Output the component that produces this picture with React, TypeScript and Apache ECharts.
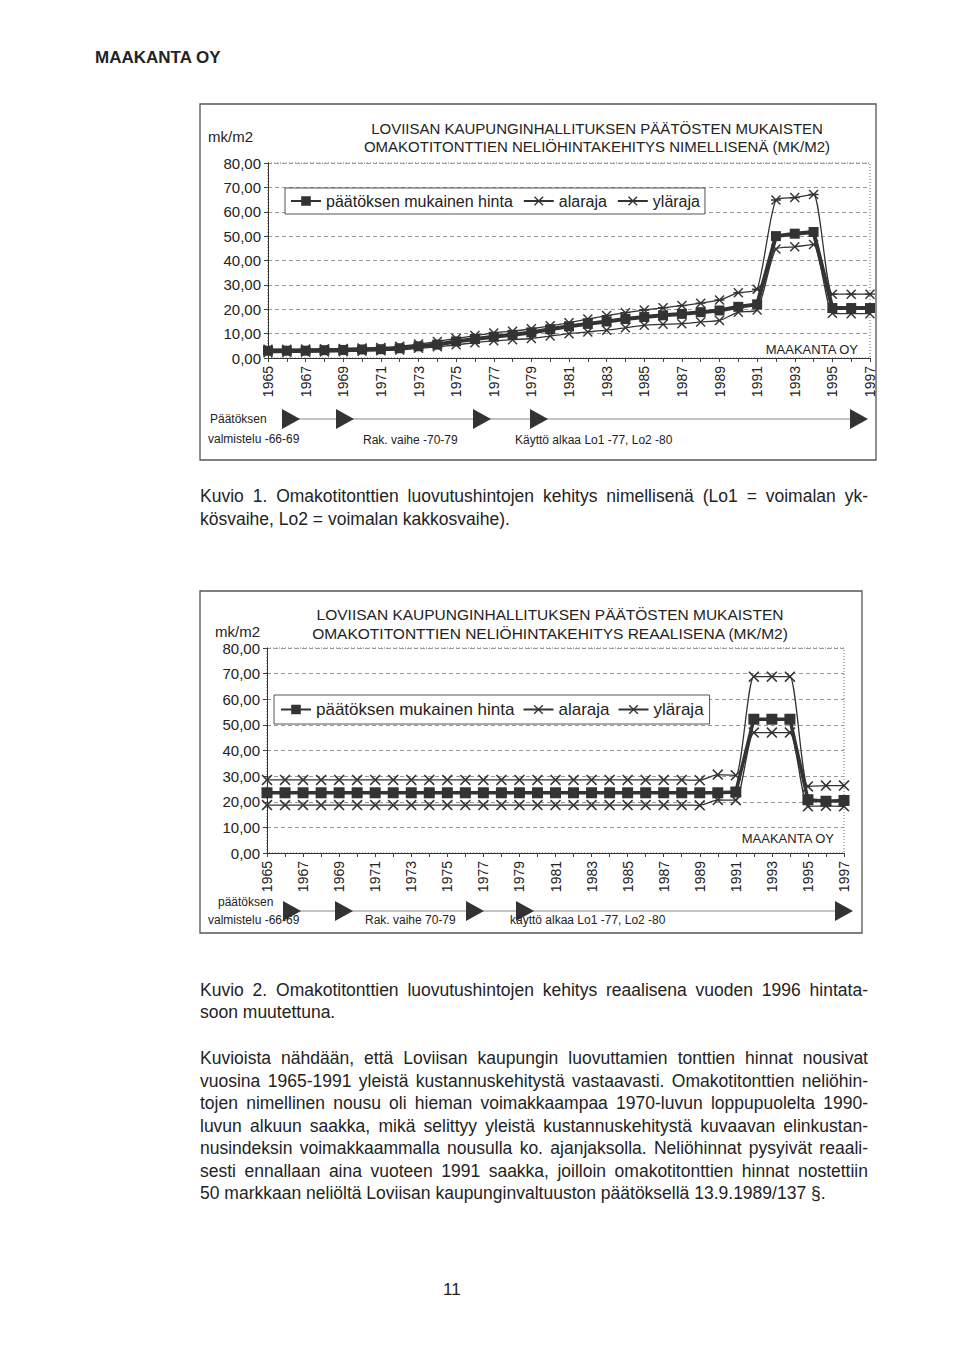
import React, { useEffect, useRef } from 'react';
import * as echarts from 'echarts';

const YEARS = ['1965','1966','1967','1968','1969','1970','1971','1972','1973','1974','1975','1976','1977','1978','1979','1980','1981','1982','1983','1984','1985','1986','1987','1988','1989','1990','1991','1992','1993','1994','1995','1996','1997'];

const SERIES_NAMES = ['päätöksen mukainen hinta', 'alaraja', 'yläraja'];

// Kuvio 1 – nominal
const NOMINAL_PRICE = [3.0,3.0,3.0,3.2,3.3,3.5,3.6,4.0,4.8,5.5,6.8,7.8,8.7,9.5,10.5,11.8,13.0,14.0,15.0,16.0,16.8,17.5,18.1,18.8,19.5,21.0,22.0,50.0,51.0,51.7,20.5,20.5,20.5];
const NOMINAL_LOW = [2.2,2.3,2.4,2.5,2.6,2.8,3.0,3.3,4.0,4.6,5.4,6.3,7.1,7.5,8.0,9.0,10.0,10.7,11.4,12.4,13.4,13.8,14.1,14.8,15.4,18.8,19.7,44.7,45.6,46.6,18.4,18.2,18.2];
const NOMINAL_HIGH = [3.6,3.6,3.7,3.8,3.9,4.1,4.3,4.8,5.7,6.8,8.0,9.2,10.3,11.0,12.0,13.2,14.5,16.0,17.4,18.6,19.7,20.6,21.5,22.5,23.8,26.8,28.2,64.8,65.8,67.1,26.2,26.2,26.2];

// Kuvio 2 – real (1996 price level)
const REAL_PRICE = [23.5,23.5,23.5,23.5,23.5,23.5,23.5,23.5,23.5,23.5,23.5,23.5,23.5,23.5,23.5,23.5,23.5,23.5,23.5,23.5,23.5,23.5,23.5,23.5,23.5,23.5,23.8,52.2,52.2,52.2,20.8,20.2,20.5];
const REAL_LOW = [18.7,18.7,18.7,18.7,18.7,18.7,18.7,18.7,18.7,18.7,18.7,18.7,18.7,18.7,18.7,18.7,18.7,18.7,18.7,18.7,18.7,18.7,18.7,18.7,18.6,20.7,20.6,47.0,47.0,47.0,18.2,18.4,18.2];
const REAL_HIGH = [28.5,28.5,28.5,28.5,28.5,28.5,28.5,28.5,28.5,28.5,28.5,28.5,28.5,28.5,28.5,28.5,28.5,28.5,28.5,28.5,28.5,28.5,28.5,28.5,28.4,30.6,30.3,68.8,68.8,68.8,26.0,26.3,26.3];

const Y_MIN = 0;
const Y_MAX = 80;
const Y_STEP = 10;

const FONT = '"Liberation Sans", Arial, sans-serif';
const INK = '#232323';

const X_PATH = 'path://M0,1L1,0L5,4L9,0L10,1L6,5L10,9L9,10L5,6L1,10L0,9L4,5Z';
const STAR_PATH = 'path://M0,1L1,0L5,4L9,0L10,1L6,5L10,9L9,10L5,6L1,10L0,9L4,5ZM0,4.3L10,4.3L10,5.7L0,5.7Z';

type Cfg = {
  frame: [number, number, number, number];
  titleX: number;
  titleY: [number, number];
  titleSize: number;
  titles: [string, string];
  unit: [number, number];
  grid: { left: number; top: number; width: number; height: number };
  legend: { left: number; top: number; fontSize: number; gap: number; pad: number[] };
  stamp: [number, number, number];
  arrowY: number;
  arrows: number[];
  notes: { text: string; x: number; y: number }[];
  price: number[];
  low: number[];
  high: number[];
  highSymbol: string;
  mark: number;
  priceWidth: number;
};

function text(t: string, x: number, y: number, size: number, align = 'left', weight = 'normal') {
  return {
    type: 'text', x, y, silent: true,
    style: {
      text: t, fill: INK, fontSize: size, fontFamily: FONT, fontWeight: weight,
      textAlign: align, textVerticalAlign: 'middle', align, verticalAlign: 'middle'
    }
  };
}

function buildOption(c: Cfg) {
  const g = c.grid;
  const tri = (cx: number) => ({
    type: 'polygon', silent: true,
    shape: { points: [[cx - 9, c.arrowY - 10], [cx + 9, c.arrowY], [cx - 9, c.arrowY + 10]] },
    style: { fill: '#333' }
  });
  const graphic: any[] = [
    { type: 'rect', silent: true, shape: { x: c.frame[0], y: c.frame[1], width: c.frame[2], height: c.frame[3] }, style: { fill: 'none', stroke: '#555', lineWidth: 1.3 } },
    { type: 'rect', silent: true, z: -1, shape: { x: g.left, y: g.top, width: g.width, height: g.height }, style: { fill: 'none', stroke: '#666', lineWidth: 1, lineDash: [1, 2] } },
    text(c.titles[0], c.titleX, c.titleY[0], c.titleSize, 'center'),
    text(c.titles[1], c.titleX, c.titleY[1], c.titleSize, 'center'),
    text('mk/m2', c.unit[0], c.unit[1], 15),
    text('MAAKANTA OY', c.stamp[0], c.stamp[1], c.stamp[2], 'right'),
    { type: 'line', silent: true, shape: { x1: c.arrows[0], y1: c.arrowY, x2: c.arrows[c.arrows.length - 1], y2: c.arrowY }, style: { stroke: '#888', lineWidth: 1 } },
    ...c.arrows.map(tri),
    ...c.notes.map((n) => text(n.text, n.x, n.y, 12))
  ];
  return {
    animation: false,
    textStyle: { fontFamily: FONT },
    grid: { left: g.left, top: g.top, width: g.width, height: g.height, containLabel: false },
    legend: {
      left: c.legend.left, top: c.legend.top, orient: 'horizontal',
      itemWidth: 30, itemHeight: 12, itemGap: c.legend.gap, padding: c.legend.pad,
      borderColor: '#555', borderWidth: 1, backgroundColor: '#fff',
      textStyle: { fontSize: c.legend.fontSize, color: INK, fontFamily: FONT },
      data: SERIES_NAMES
    },
    xAxis: {
      type: 'category', data: YEARS, boundaryGap: false,
      axisLine: { lineStyle: { color: '#333', width: 1 } },
      axisTick: { show: true, interval: 0, length: 4, lineStyle: { color: '#444' } },
      axisLabel: { interval: 1, rotate: 90, fontSize: 14, color: INK, margin: 8, fontFamily: FONT },
      splitLine: { show: false }
    },
    yAxis: {
      type: 'value', min: Y_MIN, max: Y_MAX, interval: Y_STEP,
      axisLine: { show: true, lineStyle: { color: '#333', width: 1 } },
      axisTick: { show: true, length: 4, lineStyle: { color: '#444' } },
      axisLabel: { fontSize: 15, color: INK, margin: 7, fontFamily: FONT, formatter: (v: number) => v.toFixed(2).replace('.', ',') },
      splitLine: { show: true, lineStyle: { color: '#999', type: [4, 3], width: 1 } }
    },
    series: [
      {
        name: SERIES_NAMES[1], type: 'line', data: c.low, smooth: 0.2,
        symbol: X_PATH, symbolSize: c.mark,
        lineStyle: { color: '#333', width: 1.3 }, itemStyle: { color: '#333' }, z: 3
      },
      {
        name: SERIES_NAMES[2], type: 'line', data: c.high, smooth: 0.2,
        symbol: c.highSymbol, symbolSize: c.mark,
        lineStyle: { color: '#333', width: 1.3 }, itemStyle: { color: '#333' }, z: 3
      },
      {
        name: SERIES_NAMES[0], type: 'line', data: c.price,
        symbol: 'rect', symbolSize: c.mark,
        lineStyle: { color: '#333', width: c.priceWidth }, itemStyle: { color: '#333' }, z: 4
      }
    ],
    graphic
  };
}

const CHART1: Cfg = {
  frame: [200, 104, 676, 356],
  titleX: 597, titleY: [128, 146], titleSize: 15,
  titles: ['LOVIISAN KAUPUNGINHALLITUKSEN PÄÄTÖSTEN MUKAISTEN', 'OMAKOTITONTTIEN NELIÖHINTAKEHITYS NIMELLISENÄ (MK/M2)'],
  unit: [208, 136],
  grid: { left: 268, top: 163, width: 602, height: 195 },
  legend: { left: 285, top: 188, fontSize: 16, gap: 10, pad: [5, 5] },
  stamp: [858, 349, 13],
  arrowY: 419,
  arrows: [291, 345, 482, 539, 859],
  notes: [
    { text: 'Päätöksen', x: 210, y: 419 },
    { text: 'valmistelu -66-69', x: 208, y: 439 },
    { text: 'Rak. vaihe -70-79', x: 363, y: 440 },
    { text: 'Käyttö alkaa Lo1 -77, Lo2 -80', x: 515, y: 440 }
  ],
  price: NOMINAL_PRICE, low: NOMINAL_LOW, high: NOMINAL_HIGH,
  highSymbol: STAR_PATH, mark: 10, priceWidth: 4
};

const CHART2: Cfg = {
  frame: [200, 31, 662, 342],
  titleX: 550, titleY: [54, 73], titleSize: 15.5,
  titles: ['LOVIISAN KAUPUNGINHALLITUKSEN PÄÄTÖSTEN MUKAISTEN', 'OMAKOTITONTTIEN NELIÖHINTAKEHITYS REAALISENA (MK/M2)'],
  unit: [215, 71],
  grid: { left: 267, top: 88, width: 577, height: 205 },
  legend: { left: 274, top: 135, fontSize: 17, gap: 8, pad: [6, 6] },
  stamp: [834, 278, 13],
  arrowY: 351,
  arrows: [292, 344, 475, 525, 844],
  notes: [
    { text: 'päätöksen', x: 218, y: 342 },
    { text: 'valmistelu -66-69', x: 208, y: 360 },
    { text: 'Rak. vaihe 70-79', x: 365, y: 360 },
    { text: 'käyttö alkaa Lo1 -77, Lo2 -80', x: 510, y: 360 }
  ],
  price: REAL_PRICE, low: REAL_LOW, high: REAL_HIGH,
  highSymbol: X_PATH, mark: 11, priceWidth: 3.5
};

function Chart({ cfg, top, height }: { cfg: Cfg; top: number; height: number }) {
  const ref = useRef<HTMLDivElement>(null);
  useEffect(() => {
    if (!ref.current) return;
    const chart = echarts.init(ref.current, undefined, { renderer: 'svg' });
    chart.setOption(buildOption(cfg) as any);
    return () => chart.dispose();
  }, [cfg]);
  return <div ref={ref} style={{ position: 'absolute', left: 0, top, width: 960, height }} />;
}

const CAPTION1 = ['Kuvio 1. Omakotitonttien luovutushintojen kehitys nimellisenä (Lo1 = voimalan yk-', 'kösvaihe, Lo2 = voimalan kakkosvaihe).'];
const CAPTION2 = ['Kuvio 2. Omakotitonttien luovutushintojen kehitys reaalisena vuoden 1996 hintata-', 'soon muutettuna.'];
const PARAGRAPH = [
  'Kuvioista nähdään, että Loviisan kaupungin luovuttamien tonttien hinnat nousivat',
  'vuosina 1965-1991 yleistä kustannuskehitystä vastaavasti. Omakotitonttien neliöhin-',
  'tojen nimellinen nousu oli hieman voimakkaampaa 1970-luvun loppupuolelta 1990-',
  'luvun alkuun saakka, mikä selittyy yleistä kustannuskehitystä kuvaavan elinkustan-',
  'nusindeksin voimakkaammalla nousulla ko. ajanjaksolla. Neliöhinnat pysyivät reaali-',
  'sesti ennallaan aina vuoteen 1991 saakka, joilloin omakotitonttien hinnat nostettiin',
  '50 markkaan neliöltä Loviisan kaupunginvaltuuston päätöksellä 13.9.1989/137 §.'
];

function Lines({ lines, tops }: { lines: string[]; tops: number[] }) {
  return (
    <>
      {lines.map((l, i) => (
        <div key={i} style={{
          position: 'absolute', left: 200, width: 668, top: tops[i] - 12, height: 24, lineHeight: '24px',
          fontFamily: FONT, fontSize: 17.5, color: INK, whiteSpace: 'nowrap',
          textAlign: 'justify', textAlignLast: i < lines.length - 1 ? 'justify' : 'left'
        } as any}>{l}</div>
      ))}
    </>
  );
}

export default function App() {
  return (
    <div style={{ position: 'absolute', left: 0, top: 0, width: 960, height: 1361, background: '#fff', overflow: 'hidden' }}>
      <div style={{ position: 'absolute', left: 95, top: 46, lineHeight: '24px', fontFamily: FONT, fontSize: 17, fontWeight: 'bold', color: INK }}>MAAKANTA OY</div>
      <Chart cfg={CHART1} top={0} height={470} />
      <Chart cfg={CHART2} top={560} height={380} />
      <Lines lines={CAPTION1} tops={[496, 519]} />
      <Lines lines={CAPTION2} tops={[990, 1012]} />
      <Lines lines={PARAGRAPH} tops={[1058, 1081, 1103, 1126, 1148, 1171, 1193]} />
      <div style={{ position: 'absolute', left: 443, top: 1278, lineHeight: '24px', fontFamily: FONT, fontSize: 17, color: INK }}>11</div>
    </div>
  );
}
